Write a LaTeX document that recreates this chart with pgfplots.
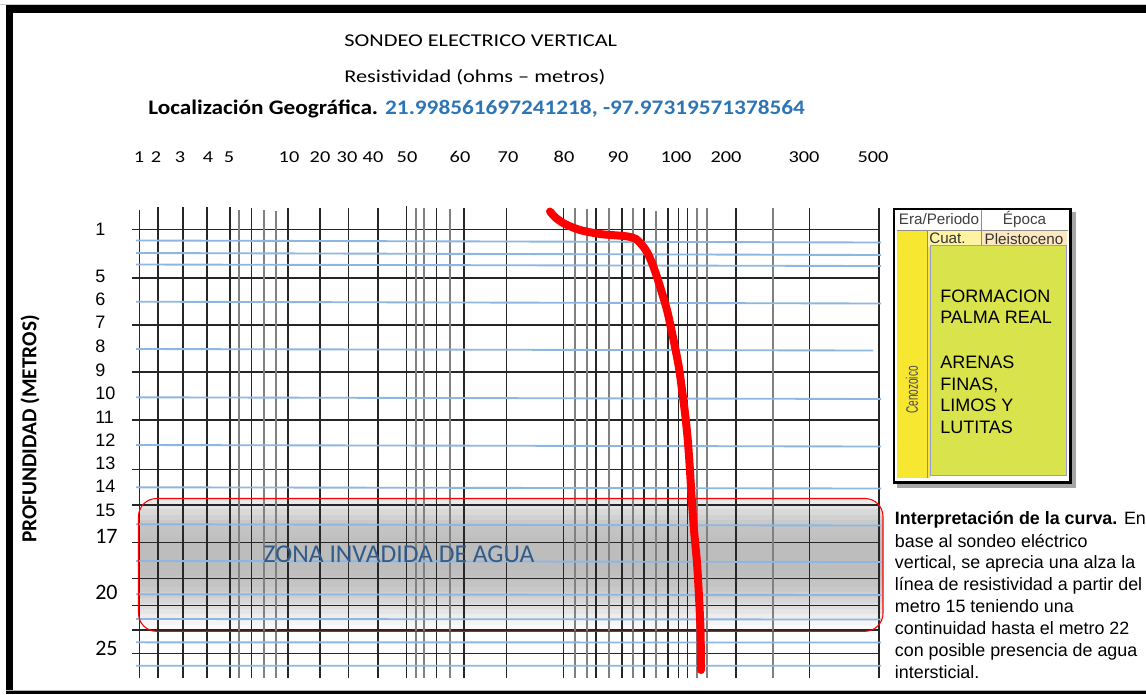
\documentclass[border=0pt]{standalone}
\usepackage{pgfplots}
\pgfplotsset{compat=1.18}
\usepackage{fontspec}
\setmainfont{Carlito}
\newfontfamily\arial{Liberation Sans}
\newfontfamily\condensed{Liberation Sans}[FakeStretch=0.6]
\newcommand{\fs}[1]{\fontsize{#1}{#1}\selectfont}
\definecolor{gridblue}{HTML}{8DB6E2}
\definecolor{locblue}{HTML}{2E75B6}
\definecolor{zonablue}{HTML}{2F5C8A}
\definecolor{geoyellow}{HTML}{F7E731}
\definecolor{cuatyellow}{HTML}{FFF3A3}
\definecolor{pleisto}{HTML}{FDE7BE}
\definecolor{geogreen}{HTML}{D9E34B}
\newcommand{\xl}[2]{\node[inner sep=0pt, xscale=1.22] at (axis cs:#1,157) {\fs{12.5pt}#2};}
\newcommand{\yl}[2]{\node[anchor=west, inner sep=0pt] at (axis cs:95,#1) {\arial\fs{13.5pt}#2};}
\newcommand{\ylc}[2]{\node[anchor=west, inner sep=0pt] at (axis cs:95,#1) {\fs{16.5pt}#2};}
\newcommand{\geol}[2]{\node[anchor=west, inner sep=0pt] at (axis cs:940,#1) {\arial\fs{13.5pt}\strut#2};}
\newcommand{\intl}[2]{\node[anchor=west, inner sep=0pt] at (axis cs:894.7,#1) {\arial\fs{13.4pt}\strut#2};}
\pgfplotsset{pixaxis/.style={scale only axis, width=859.5pt, height=520.5pt, at={(0,0)}, anchor=south west,
  xmin=0, xmax=1146, ymin=0, ymax=694, y dir=reverse, hide axis, clip=false}}
\begin{document}
\begin{tikzpicture}
\begin{axis}[name=ax, pixaxis]
% frame
\fill[black!20] (axis cs:0,3.5) rectangle (axis cs:1146,5);
\fill[black] (axis cs:6,5) rectangle (axis cs:1146,12.7);
\fill[black] (axis cs:6,5) rectangle (axis cs:13.3,694);
\fill[black!30] (axis cs:6,689.5) rectangle (axis cs:1146,691);
\fill[black] (axis cs:6,691) rectangle (axis cs:1146,694);
\coordinate (zA) at (axis cs:138.5,631.3);
\coordinate (zB) at (axis cs:883,498.5);
\end{axis}

% zona invadida background gradient (bands)
\begin{scope}
\clip[rounded corners=13.5pt] (zA) rectangle (zB);
\foreach \g [count=\i from 0] in {8,11,15,18,21,23,24,25,26,26,26,26,26,25,24,23,21,19,16,13,10,7,4,2} {
  \pgfmathsetmacro{\ya}{(694-498.5-\i*5.5333+0.3)*0.75}
  \pgfmathsetmacro{\yb}{(694-498.5-(\i+1)*5.5333)*0.75}
  \fill[black!\g] (103.875pt,\ya pt) rectangle (662.25pt,\yb pt);
}
\end{scope}

\begin{axis}[name=ax2, pixaxis]
% horizontal black lines
\addplot[black!85, line width=1.2pt, mark=none, unbounded coords=jump] coordinates {
(132,229.5) (880,229.5) (nan,nan)
(132,277.7) (880,277.7) (nan,nan)
(132,325) (880,325) (nan,nan)
(132,372) (880,372) (nan,nan)
(132,419.7) (880,419.7) (nan,nan)
(132,469.3) (880,469.3) (nan,nan)
(132,505) (880,505) (nan,nan)
(132,542.3) (880,542.3) (nan,nan)
(132,578.3) (880,578.3) (nan,nan)
(132,605.3) (880,605.3) (nan,nan)
(132,630) (880,630) (nan,nan)
(132,653.3) (880,653.3)
};

% vertical gray lines
\addplot[black!50, line width=1.6pt, mark=none, unbounded coords=jump] coordinates {
(239.3,210) (239.3,678) (nan,nan)
(264,210) (264,678) (nan,nan)
(275.8,211) (275.8,678) (nan,nan)
(416,208) (416,678) (nan,nan)
(424,208) (424,678) (nan,nan)
(450.4,209) (450.4,678) (nan,nan)
(575,208) (575,678) (nan,nan)
(587.3,209) (587.3,678) (nan,nan)
(608.7,208) (608.7,678) (nan,nan)
(632.7,208) (632.7,678) (nan,nan)
(655.7,211) (655.7,678) (nan,nan)
(696.7,208) (696.7,678) (nan,nan)
(706.7,208) (706.7,678) (nan,nan)
(772.7,208) (772.7,678)
};

% vertical black lines
\addplot[black!85, line width=1.2pt, mark=none, unbounded coords=jump] coordinates {
(139.5,210) (139.5,678) (nan,nan)
(157.7,207) (157.7,678) (nan,nan)
(182.8,207) (182.8,678) (nan,nan)
(206.7,207) (206.7,678) (nan,nan)
(230,207) (230,678) (nan,nan)
(251.3,208) (251.3,678) (nan,nan)
(287.8,208) (287.8,678) (nan,nan)
(320,208) (320,678) (nan,nan)
(348.3,208) (348.3,678) (nan,nan)
(377.7,208) (377.7,678) (nan,nan)
(406.4,206) (406.4,678) (nan,nan)
(436.3,208) (436.3,678) (nan,nan)
(464.2,208) (464.2,678) (nan,nan)
(506.3,208) (506.3,678) (nan,nan)
(563.3,208) (563.3,678) (nan,nan)
(595.7,208) (595.7,678) (nan,nan)
(621.7,208) (621.7,678) (nan,nan)
(644,208) (644,678) (nan,nan)
(667.7,208) (667.7,678) (nan,nan)
(678.3,208) (678.3,678) (nan,nan)
(687.3,208) (687.3,678) (nan,nan)
(736,208) (736,678) (nan,nan)
(809.3,208) (809.3,678) (nan,nan)
(879,208) (879,678)
};

% blue lines
\addplot[gridblue, line width=1.4pt, mark=none, unbounded coords=jump] coordinates {
(136,240.5) (881,242.5) (nan,nan)
(136,253) (881,255) (nan,nan)
(136,264.5) (881,266) (nan,nan)
(136,301.7) (881,303.5) (nan,nan)
(136,349) (873,350.5) (nan,nan)
(136,397.3) (881,399) (nan,nan)
(136,445) (881,446.5) (nan,nan)
(136,487.3) (881,488.5) (nan,nan)
(136,524.3) (881,525.5) (nan,nan)
(136,561) (881,562) (nan,nan)
(136,594.3) (881,595) (nan,nan)
(136,619) (881,619.5) (nan,nan)
(136,642.3) (881,642.5) (nan,nan)
(136,665.7) (881,665.7)
};

% zona invadida border and label
\draw[red, line width=0.8pt, rounded corners=13.5pt] (axis cs:138.5,498.5) rectangle (axis cs:883,631.3);
\node[inner sep=0pt] at (axis cs:399,554) {\fs{19.2pt}\textcolor{zonablue}{ZONA INVADIDA DE AGUA}};

% titles
\node[anchor=west, inner sep=0pt, xscale=1.24] at (axis cs:344,41) {\fs{13.5pt}SONDEO ELECTRICO VERTICAL};
\node[anchor=west, inner sep=0pt, xscale=1.24] at (axis cs:344,77) {\fs{13.5pt}Resistividad (ohms -- metros)};
\node[anchor=west, inner sep=0pt, xscale=1.125] at (axis cs:148,109) {\fs{15.5pt}\bfseries Localización Geográfica. \textcolor{locblue}{21.998561697241218, -97.97319571378564}};

% x labels
\xl{139}{1}\xl{156}{2}\xl{180}{3}\xl{208}{4}\xl{229}{5}\xl{289}{10}\xl{320}{20}\xl{347}{30}\xl{373}{40}
\xl{407}{50}\xl{460}{60}\xl{508}{70}\xl{564}{80}\xl{618}{90}\xl{676}{100}\xl{726}{200}\xl{804}{300}\xl{873}{500}

% y labels
\yl{229.3}{1}\yl{276}{5}\yl{299.3}{6}\yl{322.7}{7}\yl{346}{8}\yl{370}{9}\yl{393.3}{10}\yl{417.3}{11}
\yl{440}{12}\yl{463.3}{13}\yl{486.7}{14}\yl{510}{15}
\ylc{536}{17}\ylc{592.7}{20}\ylc{648.3}{25}
\node[rotate=90, inner sep=0pt] at (axis cs:30,429) {\fs{16pt}\bfseries PROFUNDIDAD (METROS)};

% red curve
\addplot[red, line width=6pt, mark=none, smooth, tension=0.5, line cap=round] coordinates {
(550,211.5) (556,218) (565,224) (580,230) (600,234) (618,235.5) (628,236.5)
(636,239) (642,245) (647,252) (652,263) (657,277) (662,293) (667,310)
(671,328) (675,347) (679,368) (682,390) (685,413) (687.5,437) (689.5,463)
(691.6,497) (694,530) (697,563) (699,597) (700.5,630) (701,670)
};

% geological column
\fill[black!35] (axis cs:897,212) rectangle (axis cs:1076,488);
\fill[white] (axis cs:893,208) rectangle (axis cs:1071.5,483.3);
\fill[geoyellow] (axis cs:897,230) rectangle (axis cs:927.3,478);
\fill[cuatyellow] (axis cs:927.3,231) rectangle (axis cs:981.7,246.5);
\fill[pleisto] (axis cs:981.7,231) rectangle (axis cs:1067,246.5);
\fill[geoyellow] (axis cs:927.3,246.5) rectangle (axis cs:930,478);
\draw[black!45, line width=0.5pt] (axis cs:897,230) -- (axis cs:1068,230);
\draw[black!45, line width=0.5pt] (axis cs:981.7,210) -- (axis cs:981.7,246.5);
\draw[black!45, line width=0.5pt] (axis cs:927.3,230) -- (axis cs:927.3,478);
\fill[geogreen] (axis cs:930,245) rectangle (axis cs:1066.7,475);
\draw[black!40!blue!40, line width=0.5pt] (axis cs:930,245) rectangle (axis cs:1066.7,475);
\draw[black, line width=2.2pt] (axis cs:894,209) rectangle (axis cs:1070.5,482.3);
\node[inner sep=0pt] at (axis cs:939,219.5) {\arial\fs{11.4pt}\textcolor{black!75}{Era/Periodo}};
\node[inner sep=0pt] at (axis cs:1024.5,219.5) {\arial\fs{11.4pt}\textcolor{black!75}{Época}};
\node[anchor=west, inner sep=0pt] at (axis cs:929,238.5) {\arial\fs{11.4pt}\textcolor{black!80}{Cuat.}};
\node[inner sep=0pt] at (axis cs:1024,239) {\arial\fs{11.4pt}\textcolor{black!80}{Pleistoceno}};
\node[rotate=90, inner sep=0pt] at (axis cs:912,390) {\condensed\fs{12.5pt}\textcolor{black!70}{Cenozoico}};
\geol{299}{FORMACION}\geol{320}{PALMA REAL}\geol{365}{ARENAS}\geol{387}{FINAS,}\geol{408}{LIMOS Y}\geol{430}{LUTITAS}

% interpretation text
\intl{520.7}{\textbf{Interpretación de la curva.} En}
\intl{543.3}{base al sondeo eléctrico}
\intl{565}{vertical, se aprecia una alza la}
\intl{586.7}{línea de resistividad a partir del}
\intl{609}{metro 15 teniendo una}
\intl{630.7}{continuidad hasta el metro 22}
\intl{652.7}{con posible presencia de agua}
\intl{675}{intersticial.}
\end{axis}
\pgfresetboundingbox
\useasboundingbox (ax.south west) rectangle (ax.north east);
\end{tikzpicture}
\end{document}
